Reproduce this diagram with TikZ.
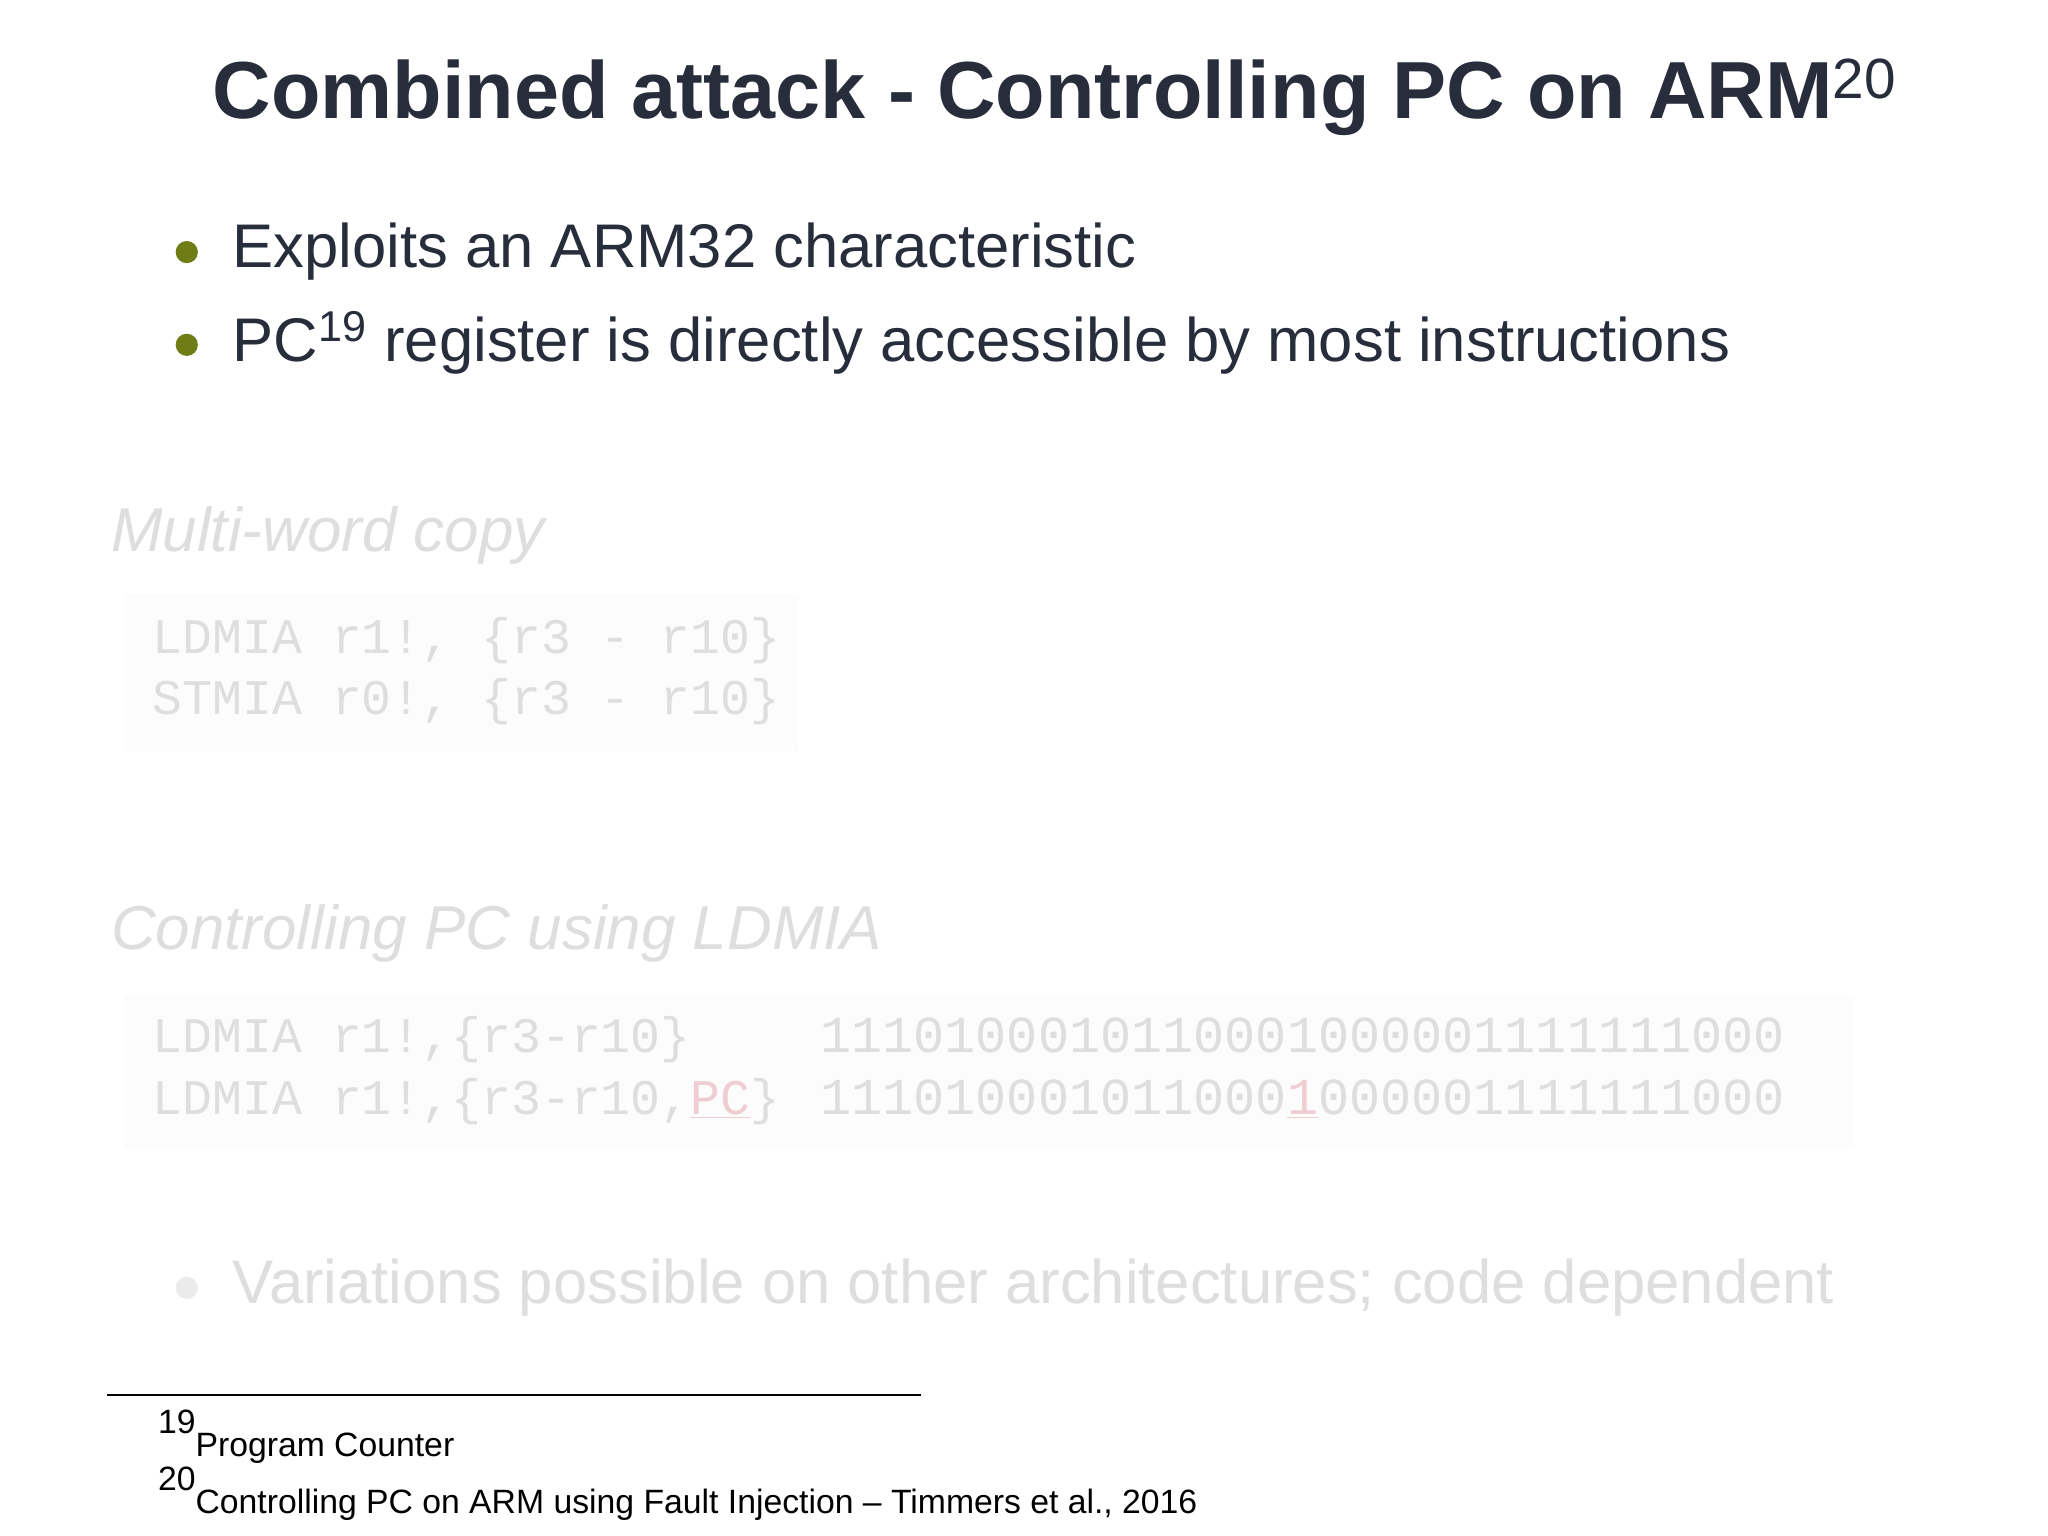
\documentclass[tikz,border=0pt]{standalone}
\usepackage{fontspec}
\setmainfont{Liberation Sans}
\setmonofont{Liberation Mono}
\definecolor{titlec}{HTML}{272D3B}
\definecolor{bulc}{HTML}{6E7D16}
\definecolor{faint}{HTML}{DEDEDE}
\definecolor{faintpc}{HTML}{EFCDD2}
\definecolor{boxc}{HTML}{FCFCFC}
\tikzset{txt/.style={anchor=base west,inner sep=0pt,outer sep=0pt},
  codef/.style={txt,text=faint,font=\fontsize{21.7}{26}\selectfont\ttfamily},
  binf/.style={txt,text=faint,font=\fontsize{22.6}{26}\selectfont\ttfamily},
  footf/.style={txt,font=\fontsize{14.7}{17}\selectfont}}
\begin{document}
\begin{tikzpicture}[x=0.02cm,y=-0.02cm]
\useasboundingbox (0,0) rectangle (1568,1176);
\fill[white] (0,0) rectangle (1568,1176);
\fill[boxc] (95,455) rectangle (612,575);
\fill[boxc] (95,762) rectangle (1420,880);
\node[txt,text=titlec,font=\fontsize{35.3}{40}\selectfont\bfseries] (title) at (163,91) {Combined attack - Controlling PC on ARM\textsuperscript{\normalfont 20}};
\fill[bulc] (143,193) circle (8.5);
\fill[bulc] (143,264) circle (8.5);
\node[txt,text=titlec,font=\fontsize{26.85}{32}\selectfont] (b1) at (178,205) {Exploits an ARM32 characteristic};
\node[txt,text=titlec,font=\fontsize{26.85}{32}\selectfont] (b2) at (178,277) {PC\textsuperscript{19} register is directly accessible by most instructions};
\node[txt,text=faint,font=\fontsize{27}{32}\selectfont\itshape] (h1) at (85,422) {Multi-word copy};
\node[codef] (c1) at (117,500) {LDMIA r1!, \{r3 - r10\}};
\node[codef] (c2) at (117,547) {STMIA r0!, \{r3 - r10\}};
\node[txt,text=faint,font=\fontsize{27}{32}\selectfont\itshape] (h2) at (85,727) {Controlling PC using LDMIA};
\node[codef] (d1) at (117,806) {LDMIA r1!,\{r3-r10\}};
\node[codef] (d2) at (117,853) {LDMIA r1!,\{r3-r10,\textcolor{faintpc}{\underline{PC}}\}};
\node[binf] (e1) at (628,806) {1110100010110001000001111111000};
\node[binf] (e2) at (628,853) {111010001011000\textcolor{faintpc}{\underline{1}}000001111111000};
\fill[faint!60] (143,986) circle (8.5);
\node[txt,text=faint,font=\fontsize{26.85}{32}\selectfont] (b3) at (178,998) {Variations possible on other architectures; code dependent};
\draw[line width=1.2pt,black] (82,1068) -- (705,1068);
\node[footf] (f1) at (121,1115) {\raisebox{1.3ex}{19}Program Counter};
\node[footf] (f2) at (121,1159) {\raisebox{1.3ex}{20}Controlling PC on ARM using Fault Injection -- Timmers et al., 2016};
\end{tikzpicture}
\end{document}
